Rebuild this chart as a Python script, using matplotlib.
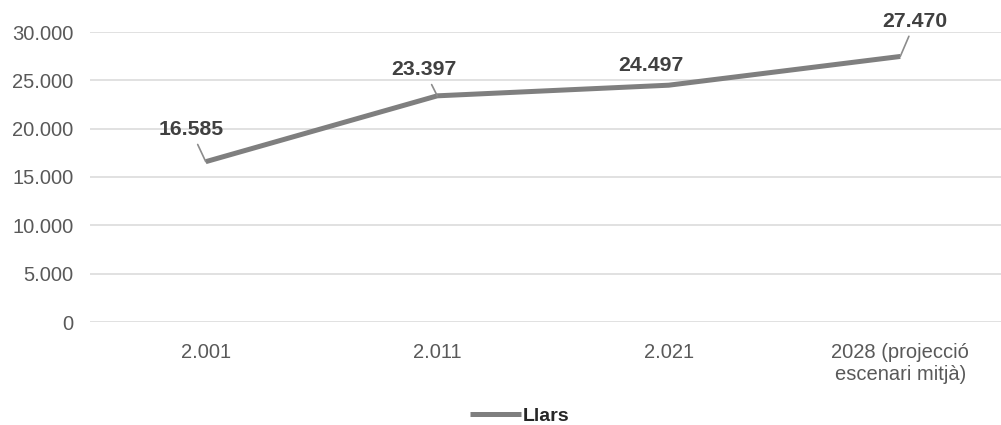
import matplotlib.pyplot as plt
import numpy as np

plt.rcParams['font.family'] = ['Liberation Sans', 'DejaVu Sans']

# data
cats = ['2.001', '2.011', '2.021', '2028 (projecció\nescenari mitjà)']
llars = [16585, 23397, 24497, 27470]
labels = ['16.585', '23.397', '24.497', '27.470']
yticks = [0, 5000, 10000, 15000, 20000, 25000, 30000]
ytick_labels = ['0', '5.000', '10.000', '15.000', '20.000', '25.000', '30.000']

# label offsets in pixels (dx, dy) from the point, and whether a leader line shows
offs = [(-15, 32, True), (-13, 26, True), (-18, 20, False), (15, 35, True)]

fig = plt.figure(figsize=(10.01, 4.25), dpi=100)
ax = fig.add_axes([90/1001, 103/425, 926/1001, 290/425])

x = np.arange(len(cats))
line, = ax.plot(x, llars, color='#7f7f7f', lw=3.6, solid_capstyle='butt',
                solid_joinstyle='round', label='Llars', zorder=3)

ax.set_xlim(-0.5, len(cats) - 0.5)
ax.set_ylim(0, 30000)
ax.set_yticks(yticks)
ax.set_yticklabels(ytick_labels)
ax.set_xticks(x)
ax.set_xticklabels(cats)
ax.grid(axis='y', color='#d9d9d9', lw=1.1)
ax.set_axisbelow(True)
for s in ax.spines.values():
    s.set_visible(False)
ax.tick_params(axis='both', length=0, labelsize=14.5, labelcolor='#595959')
ax.tick_params(axis='y', pad=12)
ax.tick_params(axis='x', pad=15)

for xi, v, lab, (dx, dy, lead) in zip(x, llars, labels, offs):
    kw = {}
    if lead:
        kw['arrowprops'] = dict(arrowstyle='-', color='#8c8c8c', lw=1.2,
                                shrinkA=2, shrinkB=0)
    ax.annotate(lab, (xi, v), xytext=(dx * 0.72, dy * 0.72),
                textcoords='offset points', ha='center', va='center',
                fontsize=15.3, fontweight='bold', color='#404040', zorder=4, **kw)

leg = fig.legend(handles=[line], loc='center', bbox_to_anchor=(0.519, 0.021),
                 frameon=False, handlelength=2.6, handletextpad=0.1,
                 prop={'size': 14, 'weight': 'bold'})
for t in leg.get_texts():
    t.set_color('#262626')

fig.savefig('out.png', dpi=100)
